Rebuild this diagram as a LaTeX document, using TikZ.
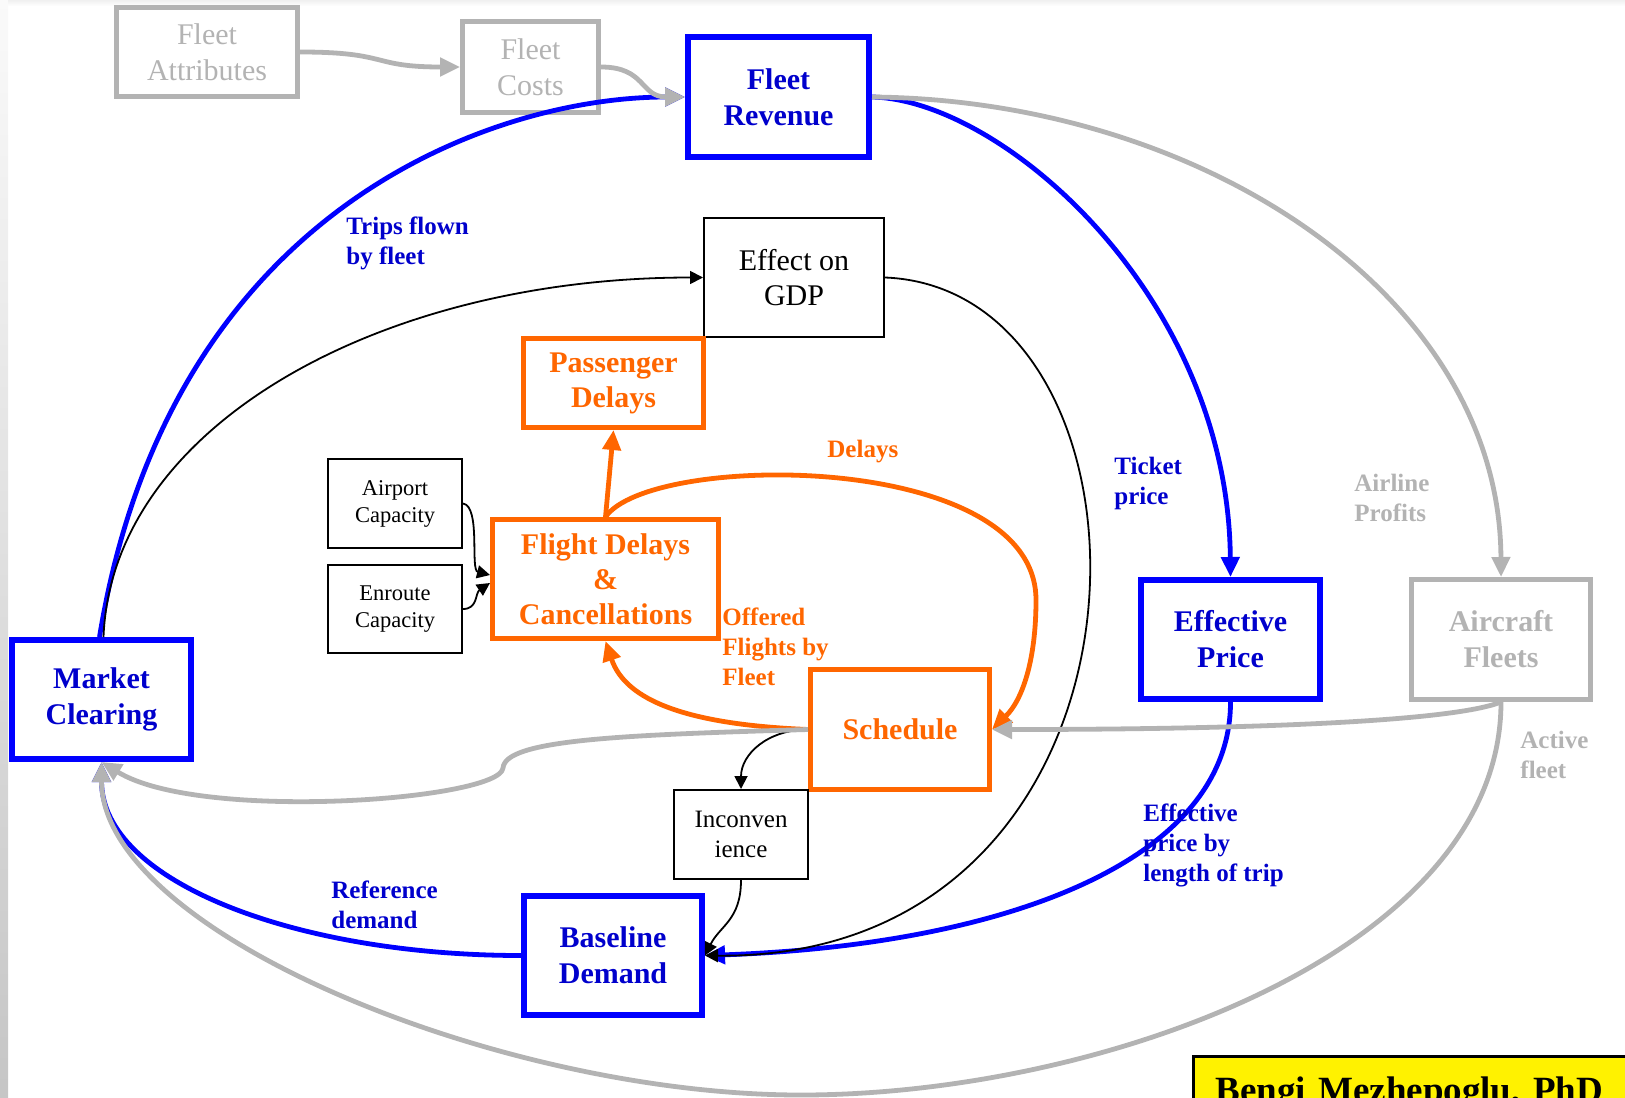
\documentclass[tikz,border=0pt]{standalone}
\usepackage{fontspec}
\setmainfont{Liberation Serif}
\usetikzlibrary{arrows.meta}

\definecolor{fleetblue}{RGB}{0,0,255}
\definecolor{fleettext}{RGB}{0,0,204}
\definecolor{delayorange}{RGB}{255,102,0}
\definecolor{fleetgray}{RGB}{179,179,179}

\tikzset{
  loopbox/.style={draw,align=center,inner sep=2pt},
  bluebox/.style={loopbox,draw=fleetblue,line width=3pt,text=fleettext,font=\fontsize{15}{18}\selectfont\bfseries,minimum width=89.5pt,minimum height=59.5pt},
  orangebox/.style={loopbox,draw=delayorange,line width=2.5pt,text=delayorange,font=\fontsize{15}{17.5}\selectfont\bfseries},
  graybox/.style={loopbox,draw=fleetgray,line width=2.5pt,text=fleetgray,font=\fontsize{15}{18}\selectfont},
  plainbox/.style={loopbox,line width=1pt,font=\fontsize{15}{17.5}\selectfont},
  smallbox/.style={loopbox,line width=1pt,font=\fontsize{11.25}{13.5}\selectfont,minimum width=67pt,minimum height=44.5pt},
  bluelink/.style={draw=fleetblue,line width=2.4pt,-{Triangle[length=10pt,width=9pt]}},
  graylink/.style={draw=fleetgray,line width=2.4pt,-{Triangle[length=10pt,width=9pt]}},
  orangelink/.style={draw=delayorange,line width=2.4pt,-{Triangle[length=10pt,width=9pt]}},
  blacklink/.style={draw=black,line width=0.9pt,-{Triangle[length=6.5pt,width=6.5pt]}},
  linklabel/.style={font=\fontsize{12.5}{15}\selectfont\bfseries,align=left,anchor=west,inner sep=0pt},
  bluelabel/.style={linklabel,text=fleettext},
  orangelabel/.style={linklabel,text=delayorange},
  graylabel/.style={linklabel,text=fleetgray}
}

\begin{document}
\begin{tikzpicture}[x=0.5pt,y=-0.5pt]
\useasboundingbox (0,0) rectangle (1625,1097);
\clip (0,0) rectangle (1625,1097);
\shade[top color=gray!4,bottom color=gray!45] (0,0) rectangle (8,1097);
\shade[top color=gray!12,bottom color=white] (8,0) rectangle (1625,6);

\draw (207,52) node (attr) [graybox,minimum width=90.5pt,minimum height=44.5pt] {Fleet\\Attributes};
\draw (530.5,67) node (cost) [graybox,minimum width=68pt,minimum height=45.5pt] {Fleet\\Costs};
\draw (778.5,97) node (rev) [bluebox,minimum width=90.5pt,minimum height=60pt] {Fleet\\Revenue};
\draw (794,277.5) node (gdp) [plainbox,minimum width=90pt,minimum height=59.5pt] {Effect on\\GDP};
\draw (613.5,383) node (pax) [orangebox,minimum width=90pt,minimum height=44.5pt] {Passenger\\Delays};
\draw (395,503.5) node (apt) [smallbox] {Airport\\Capacity};
\draw (395,609) node (enr) [smallbox,minimum height=44pt] {Enroute\\Capacity};
\draw (605.5,579) node (fdc) [orangebox,minimum width=113pt,minimum height=59.5pt] {Flight Delays\\\&\\Cancellations};
\draw (900,729.5) node (sched) [orangebox,minimum width=89.5pt,minimum height=60pt] {Schedule};
\draw (741,834.5) node (inc) [smallbox,font=\fontsize{12.5}{15}\selectfont] {Inconven\\ience};
\draw (613,955.5) node (base) [bluebox,minimum width=89pt] {Baseline\\Demand};
\draw (101.5,699.5) node (mkt) [bluebox] {Market\\Clearing};
\draw (1230.5,639.5) node (eprice) [bluebox] {Effective\\Price};
\draw (1501,639.5) node (fleets) [graybox,font=\fontsize{15}{18}\selectfont\bfseries,minimum width=89.5pt,minimum height=60pt] {Aircraft\\Fleets};

\coordinate (arcbottom) at (801,1095);
\coordinate (wiggle) at (503,768);
\coordinate (delaybend) at (1036,600);

\draw[bluelink] ([xshift=-1pt]mkt.north) .. controls +(70,-430) and +(-190,0) .. (rev.west);
\draw[bluelink] (rev.east) .. controls +(131,3) and +(-2.5,-280) .. (eprice.north);
\draw[bluelink] (eprice.south) .. controls +(0,160) and +(298,-10.5) .. (base.east);
\draw[bluelink] (base.west) .. controls +(-224,0) and +(0,120) .. (mkt.south);

\draw[blacklink] ([xshift=1pt]mkt.north) .. controls +(8,-210) and +(-324,0) .. (gdp.west);
\draw[blacklink] (gdp.east) .. controls +(296,12) and +(478,5) .. (base.east);
\draw[blacklink] (sched.west) .. controls +(-40,0) and +(0,-35) .. (inc.north);
\draw[blacklink] (inc.south) .. controls +(0,40) and +(15,-30) .. (base.east);
\draw[blacklink] (apt.east) .. controls +(18,3) and +(-20,-5) .. ([yshift=2pt]fdc.west);
\draw[blacklink] (enr.east) .. controls +(15,0) and +(-15,10) .. ([yshift=-2pt]fdc.west);

\draw[orangelink] (fdc.north) -- (pax.south);
\draw[orangelink] (fdc.north) .. controls +(44.5,-65) and +(0,-150) .. (delaybend) .. controls +(0,60) and +(30.5,-29.5) .. (sched.east);
\draw[orangelink] (sched.west) .. controls +(-120,-5) and +(20,60) .. (fdc.south);

\draw[graylink] (attr.east) .. controls +(90,0) and +(-90,0) .. (cost.west);
\draw[graylink] (cost.east) .. controls +(45,0) and +(-45,0) .. (rev.west);
\draw[graylink] (rev.east) .. controls +(331,3) and +(-1,-280) .. (fleets.north);
\draw[graylink] (fleets.south) .. controls +(-50,20) and +(250,0) .. (sched.east);
\draw[graylink] (fleets.south) .. controls +(0,250) and +(299,0) .. (arcbottom) .. controls +(-301,0) and +(0,170) .. (mkt.south);
\draw[graylink] (sched.west) .. controls +(-190.5,5.5) and +(2,-28) .. (wiggle) .. controls +(-3,32) and +(98.5,60.5) .. (mkt.south);

\draw (346,243) node (trips) [bluelabel] {Trips flown\\by fleet};
\draw (1114,483) node (ticket) [bluelabel] {Ticket\\price};
\draw (1143,845) node (bytrip) [bluelabel] {Effective\\price by\\length of trip};
\draw (331,905) node (refdem) [bluelabel] {Reference\\demand};
\draw (827,452) node (delays) [orangelabel] {Delays};
\draw (722,647) node (offered) [orangelabel] {Offered\\Flights by\\Fleet};
\draw (1354,498) node (profits) [graylabel] {Airline\\Profits};
\draw (1520,755) node (active) [graylabel] {Active\\fleet};

\draw (1192,1055) node (sig) [anchor=north west,draw=black,line width=1.5pt,fill=yellow,inner xsep=11pt,inner ysep=10pt,text width=210pt,align=left,font=\fontsize{18.5}{22}\selectfont\bfseries] {Bengi Mezhepoglu, PhD};
\end{tikzpicture}
\end{document}
